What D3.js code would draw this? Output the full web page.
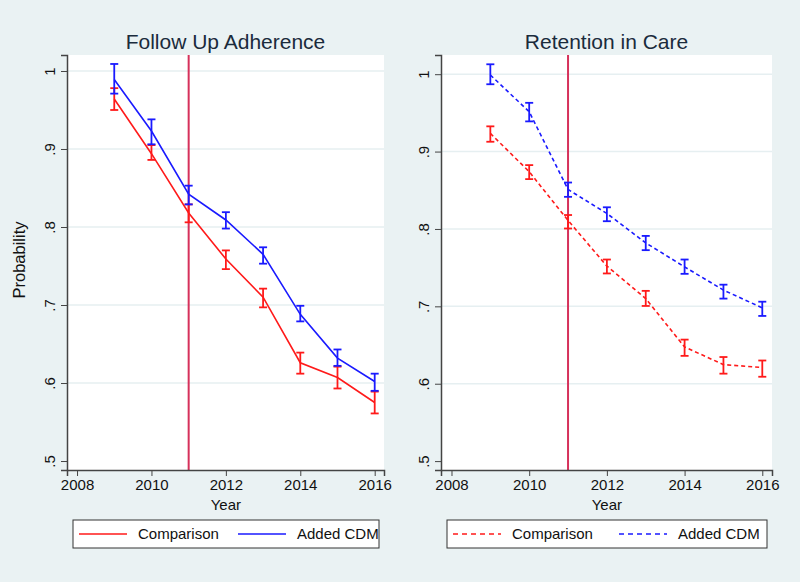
<!DOCTYPE html>
<html lang="en">
<head>
<meta charset="UTF-8">
<title>Follow Up Adherence / Retention in Care</title>
<style>
  body { margin: 0; background: #eaf2f3; }
  svg { display: block; font-family: "Liberation Sans", Arial, sans-serif; }
  .axis path, .axis line { stroke: #444; }
  .axis text { font-size: 15px; fill: #111; }
</style>
</head>
<body>
<svg id="chart" width="800" height="582"></svg>
<script src="https://cdnjs.cloudflare.com/ajax/libs/d3/7.9.0/d3.min.js"></script>
<script>
// years on the x axis
const years = [2009, 2010, 2011, 2012, 2013, 2014, 2015, 2016];
const xTicks = [2008, 2010, 2012, 2014, 2016];
const yTicks = [0.5, 0.6, 0.7, 0.8, 0.9, 1];
const interventionYear = 2011;
const seriesNames = ["Comparison", "Added CDM"];

// Follow Up Adherence
const adhComp   = [0.964, 0.894, 0.818, 0.759, 0.710, 0.626, 0.607, 0.575];
const adhCompLo = [0.950, 0.886, 0.806, 0.746, 0.697, 0.612, 0.593, 0.561];
const adhCompHi = [0.978, 0.905, 0.829, 0.770, 0.721, 0.639, 0.621, 0.589];
const adhCdm    = [0.989, 0.923, 0.842, 0.809, 0.765, 0.688, 0.632, 0.602];
const adhCdmLo  = [0.971, 0.906, 0.829, 0.798, 0.753, 0.679, 0.622, 0.590];
const adhCdmHi  = [1.009, 0.938, 0.853, 0.819, 0.774, 0.699, 0.643, 0.612];

// Retention in Care
const retComp   = [0.9235, 0.874, 0.811, 0.752, 0.710, 0.6475, 0.6247, 0.621];
const retCompLo = [0.9127, 0.8644, 0.8006, 0.7425, 0.7005, 0.636, 0.613, 0.609];
const retCompHi = [0.9326, 0.8825, 0.818, 0.7605, 0.720, 0.657, 0.6345, 0.630];
const retCdm    = [0.999, 0.9515, 0.851, 0.820, 0.782, 0.751, 0.721, 0.698];
const retCdmLo  = [0.987, 0.939, 0.8415, 0.810, 0.7726, 0.742, 0.710, 0.6876];
const retCdmHi  = [1.0128, 0.963, 0.860, 0.828, 0.791, 0.7605, 0.728, 0.706];

const colors = ["#ff1a1a", "#1a1aff"];
const vlineColor = "#d6315b";
const svg = d3.select("#chart");

function series(vals, lo, hi) {
    return years.map((yr, i) => ({ year: yr, v: vals[i], lo: lo[i], hi: hi[i] }));
}

function drawPanel(opt) {
    const x = d3.scaleLinear().domain([2007.73, 2016.25]).range([opt.left, opt.right]);
    const y = d3.scaleLinear().domain([0.4885, opt.yTop]).range([470, 55]);
    const g = svg.append("g");

    g.append("rect")
        .attr("x", opt.left).attr("y", 55)
        .attr("width", opt.right - opt.left).attr("height", 415)
        .attr("fill", "#fff");

    // horizontal grid
    g.selectAll(".grid").data(yTicks.slice(1)).enter().append("line")
        .attr("x1", opt.left).attr("x2", opt.right)
        .attr("y1", d => y(d)).attr("y2", d => y(d))
        .attr("stroke", "#e6eff1").attr("stroke-width", 1.5);

    // intervention line
    g.append("line")
        .attr("x1", x(interventionYear)).attr("x2", x(interventionYear))
        .attr("y1", 55).attr("y2", 470)
        .attr("stroke", vlineColor).attr("stroke-width", 2);

    const data = opt.series;
    data.forEach((s, k) => {
        const line = d3.line().x(d => x(d.year)).y(d => y(d.v));
        g.append("path")
            .datum(s)
            .attr("d", line)
            .attr("fill", "none")
            .attr("stroke", colors[k])
            .attr("stroke-width", 1.6)
            .attr("stroke-dasharray", opt.dashed ? "4,3" : null);

        const eb = g.selectAll(".eb" + k).data(s).enter().append("g")
            .attr("stroke", colors[k]).attr("stroke-width", 1.8);
        eb.append("line")
            .attr("x1", d => x(d.year)).attr("x2", d => x(d.year))
            .attr("y1", d => y(d.lo)).attr("y2", d => y(d.hi));
        eb.append("line")
            .attr("x1", d => x(d.year) - 4).attr("x2", d => x(d.year) + 4)
            .attr("y1", d => y(d.lo)).attr("y2", d => y(d.lo));
        eb.append("line")
            .attr("x1", d => x(d.year) - 4).attr("x2", d => x(d.year) + 4)
            .attr("y1", d => y(d.hi)).attr("y2", d => y(d.hi));
    });

    // axes
    const xAxis = g.append("g").attr("class", "axis")
        .attr("transform", "translate(0,470)")
        .call(d3.axisBottom(x).tickValues(xTicks).tickFormat(d3.format("d")).tickSizeOuter(0).tickSize(6).tickPadding(3));
    xAxis.select(".domain").attr("stroke-width", 1.5);
    xAxis.selectAll("text").attr("font-size", 15);

    const yAxis = g.append("g").attr("class", "axis")
        .attr("transform", `translate(${opt.left},0)`)
        .call(d3.axisLeft(y).tickValues(yTicks).tickSizeOuter(0).tickSize(6)
            .tickFormat(d => d === 1 ? "1" : d3.format(".1f")(d).replace(/^0/, "")));
    yAxis.select(".domain").attr("stroke-width", 1.5);
    yAxis.selectAll("text")
        .attr("text-anchor", "middle")
        .attr("font-size", 15)
        .attr("dy", null)
        .attr("x", 0)
        .attr("y", 0)
        .attr("transform", "translate(-12,0) rotate(-90)");

    // titles
    g.append("text")
        .attr("x", (opt.left + opt.right) / 2).attr("y", 49)
        .attr("text-anchor", "middle")
        .attr("font-size", 21).attr("fill", "#1a2b3c")
        .text(opt.title);
    g.append("text")
        .attr("x", x(2012)).attr("y", 510)
        .attr("text-anchor", "middle")
        .attr("font-size", 15).attr("fill", "#111")
        .text("Year");

    // legend
    const lg = g.append("g");
    lg.append("rect")
        .attr("x", opt.legX).attr("y", 520)
        .attr("width", opt.legW).attr("height", 28)
        .attr("fill", "#fff").attr("stroke", "#333").attr("stroke-width", 1);
    const items = lg.selectAll(".li").data(seriesNames).enter().append("g")
        .attr("transform", (d, i) => `translate(${opt.legX + 6 + i * opt.legStep},534)`);
    items.append("line")
        .attr("x1", 0).attr("x2", 48)
        .attr("stroke", (d, i) => colors[i])
        .attr("stroke-width", 1.6)
        .attr("stroke-dasharray", opt.dashed ? "5,4" : null);
    items.append("text")
        .attr("x", 59).attr("y", 5)
        .attr("font-size", 15).attr("fill", "#111")
        .text(d => d);
}

drawPanel({
    title: "Follow Up Adherence",
    left: 67, right: 384, yTop: 1.0205, dashed: false,
    legX: 73, legW: 306, legStep: 159,
    series: [series(adhComp, adhCompLo, adhCompHi), series(adhCdm, adhCdmLo, adhCdmHi)]
});

drawPanel({
    title: "Retention in Care",
    left: 441, right: 772, yTop: 1.0248, dashed: true,
    legX: 447, legW: 320, legStep: 166,
    series: [series(retComp, retCompLo, retCompHi), series(retCdm, retCdmLo, retCdmHi)]
});

// shared y label
svg.append("text")
    .attr("transform", "translate(25,260) rotate(-90)")
    .attr("text-anchor", "middle")
    .attr("font-size", 16.5).attr("fill", "#111")
    .text("Probability");
</script>
</body>
</html>
